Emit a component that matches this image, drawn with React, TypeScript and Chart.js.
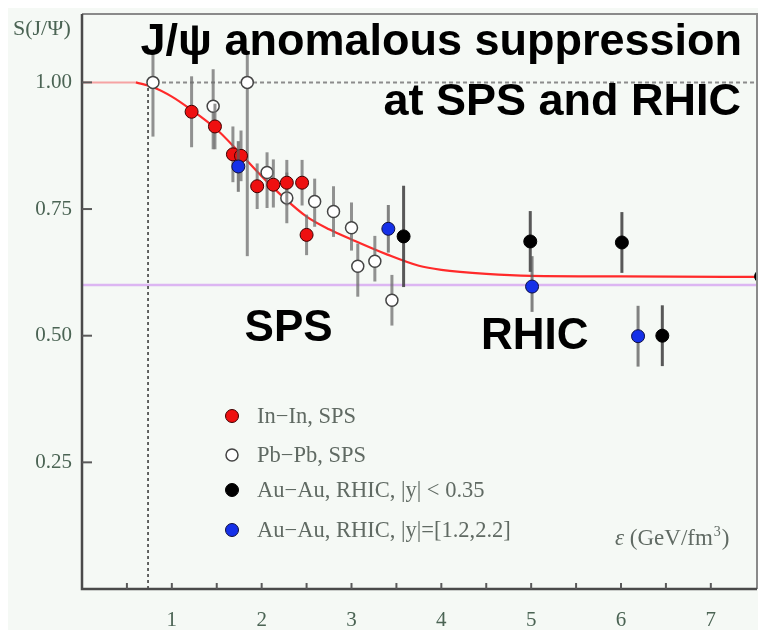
import React, { useEffect, useRef } from "react";
import { Chart, registerables } from "chart.js";

Chart.register(...registerables);

// ---- canvas size and axis ranges ----
const CANVAS_W = 750;
const CANVAS_H = 622;
const X_MAX = 7.514;
const Y_MAX = 1.135;

// ---- tick values ----
const X_TICKS = [1, 2, 3, 4, 5, 6, 7];
const X_MINOR_TICKS = [0.5, 1, 1.5, 2, 2.5, 3, 3.5, 4, 4.5, 5, 5.5, 6, 6.5, 7];
const Y_TICKS = [0.25, 0.5, 0.75, 1.0];
const Y_TICK_LABELS = ["0.25", "0.50", "0.75", "1.00"];

// ---- reference levels ----
const UNITY = 1.0;
const RHIC_LEVEL = 0.6;
const ONSET_EPS = 0.735;

// ---- suppression fit curve ----
const FLAT_X = [0, 0.6];
const FLAT_Y = [1.0, 1.0];
const FIT_X = [0.6, 0.8, 1.0, 1.2, 1.5, 1.75, 2.0, 2.25, 2.5, 2.75, 3.0, 3.4, 3.75, 4.0, 4.5, 5.0, 6.0, 7.6];
const FIT_Y = [1.0, 0.99, 0.972, 0.948, 0.907, 0.862, 0.815, 0.772, 0.735, 0.71, 0.69, 0.66, 0.638, 0.63, 0.622, 0.618, 0.617, 0.616];

// ---- In-In, SPS ----
const ININ_X = [1.22, 1.48, 1.68, 1.77, 1.95, 2.13, 2.28, 2.45, 2.5];
const ININ_Y = [0.942, 0.913, 0.858, 0.855, 0.795, 0.798, 0.802, 0.802, 0.699];
const ININ_ERR_HI = [0.07, 0.045, 0.055, 0.05, 0.045, 0.05, 0.045, 0.045, 0.04];
const ININ_ERR_LO = [0.07, 0.045, 0.055, 0.05, 0.045, 0.045, 0.045, 0.045, 0.04];

// ---- Pb-Pb, SPS ----
const PBPB_X = [0.79, 1.46, 1.84, 2.06, 2.28, 2.59, 2.8, 3.0, 3.07, 3.26, 3.45];
const PBPB_Y = [1.0, 0.953, 1.0, 0.822, 0.772, 0.765, 0.745, 0.713, 0.637, 0.647, 0.57];
const PBPB_ERR_HI = [0.065, 0.073, 0.06, 0.04, 0.05, 0.045, 0.05, 0.05, 0.045, 0.05, 0.05];
const PBPB_ERR_LO = [0.107, 0.085, 0.343, 0.07, 0.05, 0.05, 0.05, 0.045, 0.06, 0.04, 0.05];

// ---- Au-Au, RHIC, |y| < 0.35 ----
const AUAU_MID_X = [3.58, 4.99, 6.01, 6.46, 7.56];
const AUAU_MID_Y = [0.696, 0.686, 0.684, 0.5, 0.617];
const AUAU_MID_ERR = [0.1, 0.06, 0.06, 0.06, 0];

// ---- Au-Au, RHIC, |y| = [1.2, 2.2] ----
const AUAU_FWD_X = [1.74, 3.41, 5.01, 6.19];
const AUAU_FWD_Y = [0.834, 0.711, 0.597, 0.499];
const AUAU_FWD_ERR_HI = [0.05, 0.047, 0.06, 0.06];
const AUAU_FWD_ERR_LO = [0.05, 0.047, 0.05, 0.06];

// ---- text ----
const TITLE_LINES = ["J/\u03c8 anomalous suppression", "at SPS and RHIC"];
const Y_TITLE = "S(J/\u03a8)";
const X_TITLE_MAIN = "(GeV/fm";
const LEGEND_LABELS = [
  "In\u2212In, SPS",
  "Pb\u2212Pb, SPS",
  "Au\u2212Au, RHIC, |y| < 0.35",
  "Au\u2212Au, RHIC, |y|=[1.2,2.2]",
];

// ---- colours ----
const BG = "#f5f9f5";
const LABEL_COLOR = "#4b6454";
const LEGEND_COLOR = "#606a63";
const RED = "#ee1010";
const BLUE = "#1530e8";
const SANS = "'Liberation Sans', Arial, sans-serif";
const SERIF = "'Liberation Serif', 'Times New Roman', serif";

// plot frame inside the canvas
const AREA = { left: 74, top: 6, right: 749, bottom: 581 };

const pts = (xs: number[], ys: number[]) => xs.map((x, i) => ({ x, y: ys[i] }));

const paperPlugin = {
  id: "paper",
  beforeDraw(chart: any) {
    const { ctx, width, height } = chart;
    ctx.save();
    ctx.fillStyle = BG;
    ctx.fillRect(0, 0, width, height);
    ctx.restore();
  },
};

// vertical error bars, drawn just before each marker series
const errorBarPlugin = {
  id: "errorBars",
  beforeDatasetDraw(chart: any, args: any) {
    const ds = chart.data.datasets[args.index];
    if (!ds.errHi) return;
    const { ctx, chartArea: ca } = chart;
    const yScale = chart.scales.y;
    ctx.save();
    ctx.beginPath();
    ctx.rect(ca.left, ca.top, ca.right - ca.left, ca.bottom - ca.top);
    ctx.clip();
    ctx.strokeStyle = ds.errColor;
    ctx.lineWidth = 3;
    args.meta.data.forEach((el: any, i: number) => {
      const v = ds.data[i].y;
      const top = yScale.getPixelForValue(v + ds.errHi[i]);
      const bot = yScale.getPixelForValue(v - ds.errLo[i]);
      if (bot - top < 1) return;
      ctx.beginPath();
      ctx.moveTo(el.x, top);
      ctx.lineTo(el.x, bot);
      ctx.stroke();
    });
    ctx.restore();
  },
};

// axis frame with inward ticks
const framePlugin = {
  id: "frame",
  afterDatasetsDraw(chart: any) {
    const { ctx, chartArea: ca } = chart;
    const xs = chart.scales.x;
    const ys = chart.scales.y;
    ctx.save();
    ctx.lineCap = "butt";
    ctx.strokeStyle = "#8a8a8a";
    ctx.lineWidth = 2;
    ctx.beginPath();
    ctx.moveTo(ca.left, ca.top);
    ctx.lineTo(ca.right, ca.top);
    ctx.lineTo(ca.right, ca.bottom);
    ctx.stroke();
    ctx.strokeStyle = "#4a4a4a";
    ctx.lineWidth = 2.5;
    ctx.beginPath();
    ctx.moveTo(ca.left, ca.top);
    ctx.lineTo(ca.left, ca.bottom);
    ctx.lineTo(ca.right, ca.bottom);
    ctx.stroke();
    ctx.strokeStyle = "#5a5a5a";
    ctx.lineWidth = 2;
    X_MINOR_TICKS.forEach((v) => {
      const px = xs.getPixelForValue(v);
      ctx.beginPath();
      ctx.moveTo(px, ca.bottom);
      ctx.lineTo(px, ca.bottom - 6);
      ctx.stroke();
    });
    Y_TICKS.forEach((v) => {
      const py = ys.getPixelForValue(v);
      ctx.beginPath();
      ctx.moveTo(ca.left, py);
      ctx.lineTo(ca.left + 10, py);
      ctx.stroke();
    });
    ctx.restore();
  },
};

function drawMarker(ctx: CanvasRenderingContext2D, x: number, y: number, fill: string, stroke: string, r: number, lw: number) {
  ctx.beginPath();
  ctx.arc(x, y, r, 0, Math.PI * 2);
  ctx.fillStyle = fill;
  ctx.fill();
  ctx.lineWidth = lw;
  ctx.strokeStyle = stroke;
  ctx.stroke();
}

// titles, region labels, legend and axis captions
const textPlugin = {
  id: "texts",
  afterDraw(chart: any) {
    const { ctx } = chart;
    const xs = chart.scales.x;
    const ys = chart.scales.y;
    ctx.save();
    ctx.fillStyle = "#000";
    ctx.textAlign = "right";
    ctx.textBaseline = "alphabetic";
    ctx.font = `bold 45px ${SANS}`;
    ctx.fillText(TITLE_LINES[0], 734, 47);
    ctx.fillText(TITLE_LINES[1], 733, 107);

    ctx.textAlign = "center";
    ctx.font = `bold 44px ${SANS}`;
    ctx.fillText("SPS", xs.getPixelForValue(2.3), ys.getPixelForValue(0.489));
    ctx.fillText("RHIC", xs.getPixelForValue(5.04), ys.getPixelForValue(0.473));

    // y caption
    ctx.textAlign = "left";
    ctx.fillStyle = LABEL_COLOR;
    ctx.font = `22px ${SERIF}`;
    ctx.fillText(Y_TITLE, 5, 27);

    // x caption with superscript
    ctx.fillStyle = LEGEND_COLOR;
    let cx = 607;
    const base = 537;
    ctx.font = `italic 23px ${SERIF}`;
    ctx.fillText("\u03b5", cx, base);
    cx += ctx.measureText("\u03b5 ").width;
    ctx.font = `23px ${SERIF}`;
    ctx.fillText(X_TITLE_MAIN, cx, base);
    cx += ctx.measureText(X_TITLE_MAIN).width + 1;
    ctx.font = `14px ${SERIF}`;
    ctx.fillText("3", cx, base - 9);
    cx += ctx.measureText("3").width + 1;
    ctx.font = `23px ${SERIF}`;
    ctx.fillText(")", cx, base);

    // legend
    const rows = [408, 447, 482, 522];
    const mk = [
      [RED, "#400000", 6.5, 1],
      ["#ffffff", "#444", 6, 1.5],
      ["#000000", "#000", 6.5, 1],
      [BLUE, "#101040", 6.5, 1],
    ];
    rows.forEach((ry, i) => {
      const [f, s, r, lw] = mk[i] as any;
      drawMarker(ctx, 224, ry, f, s, r, lw);
      ctx.fillStyle = LEGEND_COLOR;
      ctx.font = `22.5px ${SERIF}`;
      ctx.textAlign = "left";
      ctx.fillText(LEGEND_LABELS[i], 249, ry + 7);
    });
    ctx.restore();
  },
};

export default function App() {
  const ref = useRef<HTMLCanvasElement | null>(null);

  useEffect(() => {
    if (!ref.current) return;
    const lineDs = (data: any[], color: string, width: number, order: number, dash: number[] = []) => ({
      type: "line",
      data,
      borderColor: color,
      borderWidth: width,
      borderDash: dash,
      pointRadius: 0,
      showLine: true,
      fill: false,
      order,
    });

    const chart = new Chart(ref.current, {
      type: "scatter",
      data: {
        datasets: [
          {
            label: LEGEND_LABELS[3],
            data: pts(AUAU_FWD_X, AUAU_FWD_Y),
            backgroundColor: BLUE,
            borderColor: "#101040",
            borderWidth: 1,
            pointRadius: 6.5,
            errHi: AUAU_FWD_ERR_HI,
            errLo: AUAU_FWD_ERR_LO,
            errColor: "rgba(90,90,90,0.75)",
            clip: 0,
            order: 1,
          },
          {
            label: LEGEND_LABELS[2],
            data: pts(AUAU_MID_X, AUAU_MID_Y),
            backgroundColor: "#000",
            borderColor: "#000",
            borderWidth: 1,
            pointRadius: 6.5,
            errHi: AUAU_MID_ERR,
            errLo: AUAU_MID_ERR,
            errColor: "rgba(60,60,60,0.85)",
            clip: 0,
            order: 2,
          },
          {
            label: LEGEND_LABELS[0],
            data: pts(ININ_X, ININ_Y),
            backgroundColor: RED,
            borderColor: "#400000",
            borderWidth: 1,
            pointRadius: 6.5,
            errHi: ININ_ERR_HI,
            errLo: ININ_ERR_LO,
            errColor: "rgba(110,110,110,0.75)",
            clip: 0,
            order: 3,
          },
          {
            label: LEGEND_LABELS[1],
            data: pts(PBPB_X, PBPB_Y),
            backgroundColor: "#ffffff",
            borderColor: "#444",
            borderWidth: 1.5,
            pointRadius: 6,
            errHi: PBPB_ERR_HI,
            errLo: PBPB_ERR_LO,
            errColor: "rgba(110,110,110,0.75)",
            clip: 0,
            order: 4,
          },
          { ...lineDs(pts(FIT_X, FIT_Y), "#ff2a2a", 2.2, 5), cubicInterpolationMode: "monotone" },
          lineDs(pts(FLAT_X, FLAT_Y), "#f6a3a3", 2, 6),
          lineDs([{ x: ONSET_EPS, y: UNITY }, { x: X_MAX, y: UNITY }], "#8c8c8c", 2, 7, [4, 3]),
          lineDs([{ x: ONSET_EPS, y: 0 }, { x: ONSET_EPS, y: UNITY }], "#333333", 1.5, 8, [3, 3]),
          lineDs([{ x: 0, y: RHIC_LEVEL }, { x: X_MAX, y: RHIC_LEVEL }], "#dcb6f2", 2.5, 9),
        ] as any,
      },
      options: {
        animation: false,
        responsive: false,
        devicePixelRatio: 1,
        layout: {
          autoPadding: false,
          padding: { top: AREA.top, right: CANVAS_W - AREA.right, left: 0, bottom: 0 },
        },
        plugins: { legend: { display: false }, tooltip: { enabled: false }, title: { display: false } },
        scales: {
          x: {
            type: "linear",
            min: 0,
            max: X_MAX,
            grid: { display: false, drawTicks: false },
            border: { display: false },
            afterBuildTicks: (s: any) => {
              s.ticks = X_TICKS.map((v) => ({ value: v }));
            },
            afterFit: (s: any) => {
              s.height = CANVAS_H - AREA.bottom;
              s.paddingLeft = 0;
              s.paddingRight = 0;
            },
            ticks: {
              padding: 19,
              color: LABEL_COLOR,
              font: { family: SERIF, size: 21 },
              maxRotation: 0,
              autoSkip: false,
              callback: (v: any) => String(v),
            },
          },
          y: {
            type: "linear",
            min: 0,
            max: Y_MAX,
            grid: { display: false, drawTicks: false },
            border: { display: false },
            afterBuildTicks: (s: any) => {
              s.ticks = Y_TICKS.map((v) => ({ value: v }));
            },
            afterFit: (s: any) => {
              s.width = AREA.left;
              s.paddingTop = 0;
              s.paddingBottom = 0;
            },
            ticks: {
              padding: 10,
              color: LABEL_COLOR,
              font: { family: SERIF, size: 21 },
              autoSkip: false,
              callback: (v: any) => {
                const i = Y_TICKS.indexOf(v);
                return i >= 0 ? Y_TICK_LABELS[i] : "";
              },
            },
          },
        },
      } as any,
      plugins: [paperPlugin, errorBarPlugin, framePlugin, textPlugin],
    });

    return () => chart.destroy();
  }, []);

  return (
    <canvas
      ref={ref}
      width={CANVAS_W}
      height={CANVAS_H}
      style={{ display: "block", position: "fixed", left: 8, top: 8 }}
    />
  );
}
